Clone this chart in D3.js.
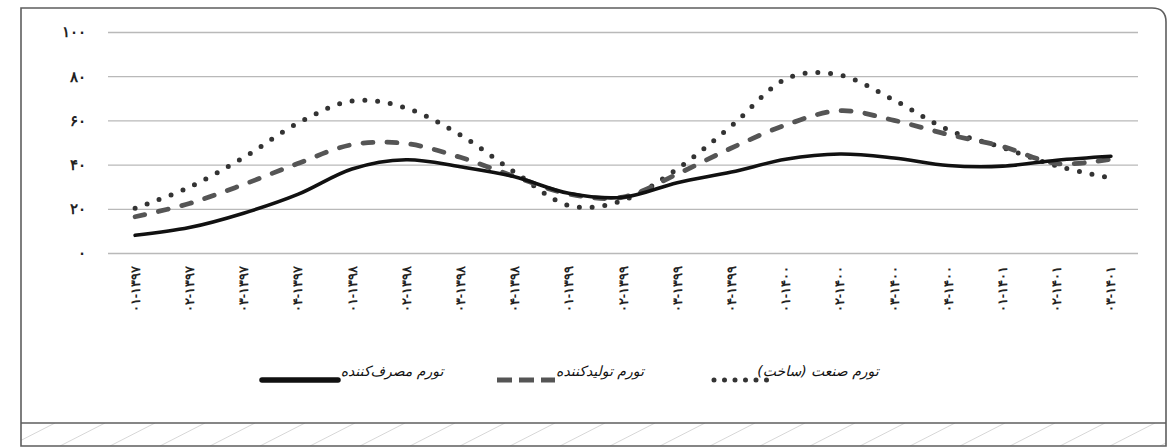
<!DOCTYPE html>
<html>
<head>
<meta charset="utf-8">
<script src="https://cdn.jsdelivr.net/npm/d3@7"></script>
<style>
    html, body { margin: 0; padding: 0; background: #fff; }
    svg { display: block; font-family: "DejaVu Sans", sans-serif; }
</style>
</head>
<body>
<div id="chartArea"></div>
<script>
// period labels (quarter-year), as printed under the chart
var periods = ["۰۱-۱۳۹۷","۰۲-۱۳۹۷","۰۳-۱۳۹۷","۰۴-۱۳۹۷",
               "۰۱-۱۳۹۸","۰۲-۱۳۹۸","۰۳-۱۳۹۸","۰۴-۱۳۹۸",
               "۰۱-۱۳۹۹","۰۲-۱۳۹۹","۰۳-۱۳۹۹","۰۴-۱۳۹۹",
               "۰۱-۱۴۰۰","۰۲-۱۴۰۰","۰۳-۱۴۰۰","۰۴-۱۴۰۰",
               "۰۱-۱۴۰۱","۰۲-۱۴۰۱","۰۳-۱۴۰۱"];

var consumer = [8, 11.5, 18, 26.5, 38, 42.2, 39, 34.5, 27, 25.2, 31.8, 36.6, 42.4, 44.8, 43, 39.6, 39.3, 42, 43.8];
var producer = [16.4, 22.4, 31, 40.5, 49, 49.5, 43.3, 34.6, 26.7, 25.3, 35.7, 47.5, 57.9, 64.4, 60, 53.6, 48.2, 40.5, 42.5];
var industry = [20.2, 29.8, 43.2, 58.7, 68.8, 65.6, 53.4, 36.6, 21.5, 23.8, 38, 57.5, 78.7, 80.5, 69.2, 55.7, 47.7, 39.4, 33.9];

var yTicks = [0, 20, 40, 60, 80, 100];
var seriesNames = ["تورم مصرف‌کننده", "تورم تولیدکننده", "تورم صنعت (ساخت)"];

var faDigits = "۰۱۲۳۴۵۶۷۸۹";
function fa(n) {
    return String(n).replace(/\d/g, function(d) { return faDigits[+d]; });
}

var W = 1168, H = 447;
var plot = {left: 108, right: 1138, top: 32, bottom: 253};

var svg = d3.select("#chartArea").append("svg")
    .attr("width", W)
    .attr("height", H);

// frame + hatched strip at the bottom
var defs = svg.append("defs");
defs.append("clipPath").attr("id", "stripClip")
    .append("rect")
    .attr("x", 21).attr("y", 423)
    .attr("width", 1145).attr("height", 23);

svg.append("g")
    .attr("clip-path", "url(#stripClip)")
    .selectAll("line")
    .data(d3.range(-40, 1220, 50))
    .enter().append("line")
    .attr("x1", function(d) { return d; })
    .attr("y1", 446)
    .attr("x2", function(d) { return d + 45; })
    .attr("y2", 423)
    .attr("stroke", "#d2d2d2")
    .attr("stroke-width", 0.9);

svg.append("path")
    .attr("d", "M21,446 V8 H1152 Q1166,8 1166,22 V446 Z")
    .attr("fill", "none")
    .attr("stroke", "#5e5e5e")
    .attr("stroke-width", 1.6);

svg.append("line")
    .attr("x1", 21).attr("x2", 1166)
    .attr("y1", 423).attr("y2", 423)
    .attr("stroke", "#5e5e5e")
    .attr("stroke-width", 1.6);

// scales
var x = d3.scaleBand()
    .domain(periods)
    .range([plot.left, plot.right]);
var y = d3.scaleLinear()
    .domain([0, 100])
    .range([plot.bottom, plot.top]);

function cx(d) { return x(d) + x.bandwidth() / 2; }

// y axis with gridlines
var yAxis = svg.append("g")
    .attr("class", "axis axis--y")
    .attr("transform", "translate(" + plot.left + ",0)")
    .call(d3.axisLeft(y)
        .tickValues(yTicks)
        .tickSize(-(plot.right - plot.left))
        .tickPadding(22)
        .tickFormat(fa));

yAxis.select(".domain").remove();
yAxis.selectAll(".tick line")
    .attr("stroke", "#b9b9b9")
    .attr("stroke-width", 1.3);
yAxis.selectAll(".tick text")
    .attr("fill", "#222")
    .style("font-size", "15px")
    .style("font-weight", "bold")
    .style("letter-spacing", "8px");

// x axis, rotated labels
var xAxis = svg.append("g")
    .attr("class", "axis axis--x")
    .attr("transform", "translate(0," + plot.bottom + ")")
    .call(d3.axisBottom(x).tickSize(0));

xAxis.select(".domain").remove();
xAxis.selectAll(".tick text")
    .attr("transform", "rotate(-90)")
    .attr("text-anchor", "end")
    .attr("direction", "ltr")
    .attr("x", -13)
    .attr("y", 0)
    .attr("dy", "0.35em")
    .attr("fill", "#222")
    .style("font-size", "13px")
    .style("font-weight", "bold")
    .style("letter-spacing", "3px");

// lines
var line = d3.line()
    .curve(d3.curveCardinal.tension(0))
    .x(function(d, i) { return cx(periods[i]); })
    .y(function(d) { return y(d); });

var styles = [
    {data: consumer, stroke: "#111", width: 3.6, dash: null},
    {data: producer, stroke: "#555", width: 4.8, dash: "10,14"},
    {data: industry, stroke: "#333", width: 5, dash: "0,12.8"}
];

svg.append("g")
    .attr("class", "series")
    .selectAll("path")
    .data(styles.slice().reverse())
    .enter().append("path")
    .attr("d", function(s) { return line(s.data); })
    .attr("fill", "none")
    .attr("stroke", function(s) { return s.stroke; })
    .attr("stroke-width", function(s) { return s.width; })
    .attr("stroke-dasharray", function(s) { return s.dash; })
    .attr("stroke-linecap", "round");

// legend
var legendItems = [
    {name: seriesNames[0], style: styles[0], sx: [262, 338], tx: 392, dash: null, cap: "round"},
    {name: seriesNames[1], style: styles[1], sx: [497, 555], tx: 600, dash: "15,7", cap: "butt"},
    {name: seriesNames[2], style: styles[2], sx: [714, 768], tx: 818, dash: "0,10.5", cap: "round"}
];
var legendY = 380;

var legend = svg.append("g").attr("class", "legend");

legend.selectAll("g")
    .data(legendItems)
    .enter()
    .append("g")
    .each(function(d) {
        var g = d3.select(this);
        g.append("line")
            .attr("x1", d.sx[0]).attr("x2", d.sx[1])
            .attr("y1", legendY).attr("y2", legendY)
            .attr("stroke", d.style.stroke)
            .attr("stroke-width", d.dash ? d.style.width : 5.5)
            .attr("stroke-dasharray", d.dash)
            .attr("stroke-linecap", d.cap);

        g.append("text")
            .attr("x", d.tx)
            .attr("y", legendY - 4)
            .attr("text-anchor", "middle")
            .attr("direction", "rtl")
            .attr("fill", "#111")
            .style("font-size", "14px")
            .style("font-style", "italic")
            .text(d.name);
    });
</script>
</body>
</html>
